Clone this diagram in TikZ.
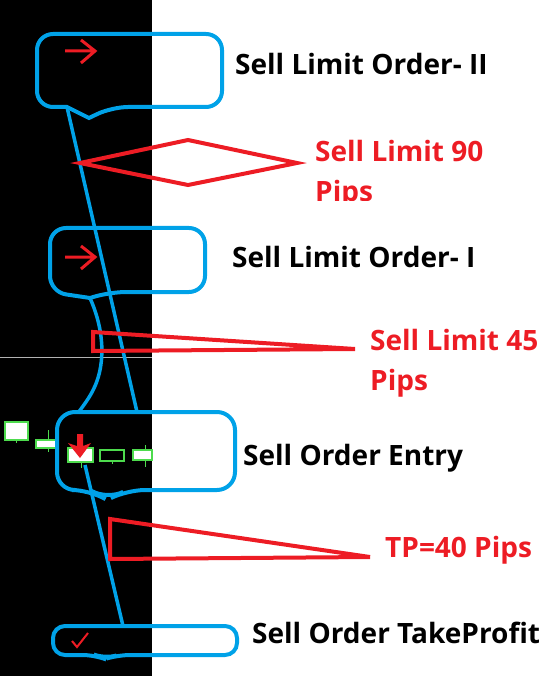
\documentclass[tikz,border=0pt]{standalone}
\usepackage{fontspec}
\setmainfont{Open Sans}
\usetikzlibrary{positioning}
\definecolor{pBlue}{HTML}{00A2E8}
\definecolor{pRed}{HTML}{ED1C24}
\definecolor{pGreen}{HTML}{4DDB4D}

\begin{document}
\begin{tikzpicture}[x=1pt, y=-1pt,
    callout/.style={draw=pBlue, line width=4pt, rounded corners=16pt},
    link/.style={draw=pBlue, line width=3.5pt},
    pips/.style={draw=pRed, line width=4pt},
    lbl/.style={anchor=base west, inner sep=0pt, font=\fontsize{28}{40}\selectfont\bfseries},
    redlbl/.style={lbl, text=pRed, align=left}]
    \useasboundingbox (0,0) rectangle (553,700);
    \fill[black] (0,0) rectangle (152,676);
    \draw[gray!60, line width=0.8pt] (0,357) -- (152,357);

    % candles
    \foreach \xl/\xr/\yt/\yb/\xw/\wt/\wb/\fc in {5/28/422/440/16/422/443/white,
        36/56/440/448/48/430/452/white, 68/93/448/462/81/448/468/white,
        100/124/450/461/112/450/464/black, 133/152/450/460/145/445/467/white} {
      \draw[pGreen, line width=1pt] (\xw,\wt) -- (\xw,\wb);
      \filldraw[draw=pGreen, fill=\fc, line width=1.2pt] (\xl,\yt) rectangle (\xr,\yb);
    }

    % callouts
    \coordinate (limIIfoot) at (67,107);
    \coordinate (limItip) at (90,298);
    \coordinate (entryTopL) at (78,413);
    \coordinate (entryTopR) at (137,412);
    \coordinate (candle) at (85,465);
    \coordinate (tpTop) at (123,626);
    \draw[callout] (limIIfoot) -- (37,107) -- (37,34) -- (222,34) -- (222,107)
      -- (112,107) [sharp corners] -- (89,118) -- cycle;
    \draw[callout] (limItip) -- (110,292) [rounded corners=16pt] -- (205,292)
      -- (205,228) -- (50,228) -- (50,292) -- (limItip);
    \draw[callout, rounded corners=18pt] (107,500) -- (127,490) -- (235,490)
      -- (235,412) -- (57,412) -- (57,490) -- (90,490) -- cycle;
    \draw[callout, rounded corners=12pt] (105,659) -- (118,655) -- (237,655)
      -- (237,626) -- (53,626) -- (53,655) -- (95,655) -- cycle;

    \draw[link] (limIIfoot) -- (entryTopR);
    \draw[link] (limItip) .. controls (102,325) and (104,350) .. (100,370)
      .. controls (96,390) and (86,402) .. (entryTopL);
    \draw[link] (candle) -- (tpTop);

    % pip ranges
    \draw[pips] (80,163) -- (188,140) -- (297,163) -- (188,185) -- cycle;
    \draw[pips] (93,332) -- (355,349) -- (93,351) -- cycle;
    \draw[pips] (110,519) -- (370,557) -- (110,559) -- cycle;

    % markers
    \foreach \y in {51,257} {
      \draw[pRed, line width=3pt] (65,\y) -- (95,\y) (81,\y-11) -- (95,\y) -- (81,\y+12);
    }
    \fill[pRed] (77,434) -- (83,434) -- (83,446) -- (91,443) -- (80,458)
      -- (68,443) -- (77,446) -- cycle;
    \draw[pRed, line width=2pt] (72,641) -- (77,647) -- (88,633);

    % labels
    \node[lbl] (ordII) at (235,75) {Sell Limit Order- II};
    \node[lbl] (ordI) at (232,267) {Sell Limit Order- I};
    \node[lbl] (entry) at (243,465) {Sell Order Entry};
    \node[lbl] (takeprofit) at (252,643) {Sell Order TakeProfit};
    \begin{scope}
      \clip (300,120) rectangle (540,201);
      \node[redlbl] (lim90) at (315,202) {Sell Limit 90\\Pips};
    \end{scope}
    \node[redlbl] (lim45) at (370,390) {Sell Limit 45\\Pips};
    \node[redlbl] (tp40) at (385,557) {TP=40 Pips};
\end{tikzpicture}
\end{document}
